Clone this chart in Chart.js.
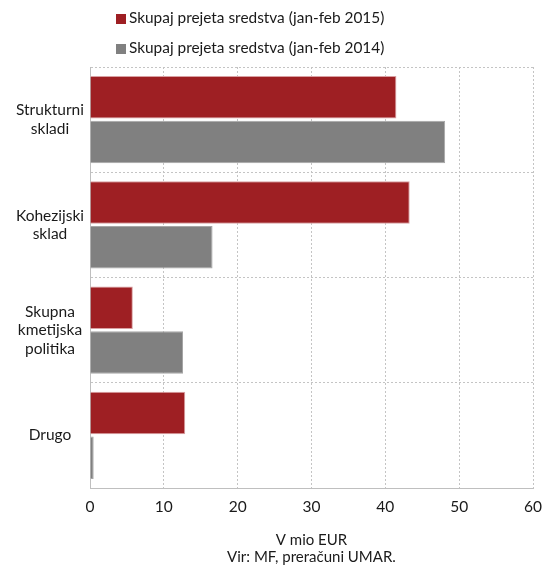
<!DOCTYPE html>
<html>
<head>
<meta charset="utf-8">
<script src="https://cdn.jsdelivr.net/npm/chart.js@4/dist/chart.umd.min.js"></script>
<style>
  html, body { margin: 0; padding: 0; background: #fff; }
  #wrap { position: relative; width: 543px; height: 568px; }
  #legend { position: absolute; left: 116px; top: 5px; font-family: "Lato", sans-serif; font-size: 15.4px; color: #1a1a1a; }
  .item { height: 30px; line-height: 24px; white-space: nowrap; }
  .box { display: inline-block; width: 10px; height: 10px; margin-right: 3px; vertical-align: -1px; }
</style>
</head>
<body>
<div id="wrap">
  <canvas id="chart" width="543" height="568"></canvas>
  <div id="legend"></div>
</div>
<script>
// ---------- Data ----------
const categories = [["Strukturni", "skladi"], ["Kohezijski", "sklad"], ["Skupna", "kmetijska", "politika"], ["Drugo"]];
const series2015 = [41.5, 43.3, 5.8, 12.9];
const series2014 = [48.1, 16.6, 12.6, 0.5];
const seriesNames = ["Skupaj prejeta sredstva (jan-feb 2015)", "Skupaj prejeta sredstva (jan-feb 2014)"];
const xTicks = [0, 10, 20, 30, 40, 50, 60];

const colors = ["#9e1f23", "#808080"];
const borders = ["#d9a0a2", "#a6a6a6"];
const fontFamily = "Lato, sans-serif";

// ---------- Legend ----------
const legend = document.getElementById("legend");
seriesNames.forEach((name, i) => {
  const row = document.createElement("div");
  row.className = "item";
  const box = document.createElement("span");
  box.className = "box";
  box.style.background = colors[i];
  row.appendChild(box);
  row.appendChild(document.createTextNode(name));
  legend.appendChild(row);
});

// ---------- Chart ----------
const gridColor = "#c4c4c4";

new Chart(document.getElementById("chart").getContext("2d"), {
  type: "bar",
  data: {
    labels: categories,
    datasets: [
      { label: seriesNames[0], data: series2015, backgroundColor: colors[0], borderColor: borders[0], borderWidth: 1 },
      { label: seriesNames[1], data: series2014, backgroundColor: colors[1], borderColor: borders[1], borderWidth: 1 }
    ]
  },
  options: {
    indexAxis: "y",
    responsive: false,
    animation: false,
    layout: { padding: { top: 67, right: 10, left: 4, bottom: 3 } },
    datasets: { bar: { categoryPercentage: 0.85, barPercentage: 0.95 } },
    plugins: { legend: { display: false }, tooltip: { enabled: false } },
    scales: {
      x: {
        min: 0,
        max: 60,
        afterBuildTicks: (axis) => { axis.ticks = xTicks.map((v) => ({ value: v })); },
        afterFit: (axis) => { axis.paddingLeft = 0; axis.paddingRight = 0; axis.height = 77; },
        ticks: { color: "#1a1a1a", font: { family: fontFamily, size: 15.5 }, padding: 10 },
        grid: { color: gridColor, drawTicks: false },
        border: { color: "#bfbfbf", dash: [2, 2] },
        title: {
          display: true,
          text: ["V mio EUR", "Vir: MF, preračuni UMAR."],
          color: "#1a1a1a",
          font: { family: fontFamily, size: 15, lineHeight: 1.1 },
          padding: { top: 9, bottom: 0 }
        }
      },
      y: {
        afterFit: (axis) => { axis.width = 86; },
        ticks: {
          color: "#1a1a1a",
          font: { family: fontFamily, size: 15.5 },
          crossAlign: "center",
          padding: 6
        },
        grid: { color: gridColor, drawTicks: false, offset: true },
        border: { color: "#bfbfbf", dash: [2, 2] }
      }
    }
  }
});
</script>
</body>
</html>
